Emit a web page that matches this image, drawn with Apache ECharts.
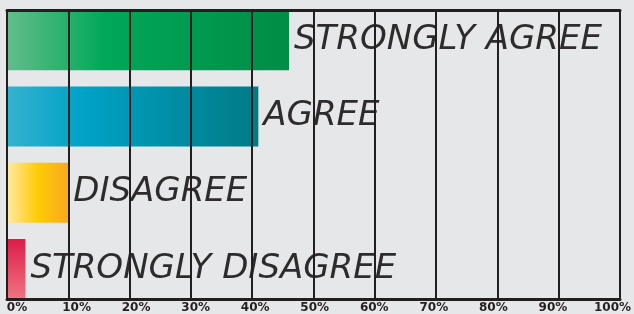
<!DOCTYPE html>
<html>
<head>
<meta charset="utf-8">
<script src="https://cdn.jsdelivr.net/npm/echarts@6/dist/echarts.min.js"></script>
<style>
  html, body { margin: 0; padding: 0; background: #e6e7e8; }
  #chart { width: 634px; height: 314px; }
</style>
</head>
<body>
<div id="chart"></div>
<script>
const categories = ['STRONGLY AGREE', 'AGREE', 'DISAGREE', 'STRONGLY DISAGREE'];
const values = [46, 41, 10, 3];
const tickLabels = ['0%', '10%', '20%', '30%', '40%', '50%', '60%', '70%', '80%', '90%', '100%'];

const ink = '#231f20';

function hGradient(stops) {
  return new echarts.graphic.LinearGradient(0, 0, 1, 0,
    stops.map(([offset, color]) => ({ offset, color })));
}

const fills = [
  hGradient([[0, '#63bd8a'], [0.35, '#00a859'], [1, '#008c45']]),
  hGradient([[0, '#35b2cf'], [0.3, '#00a2c6'], [1, '#007b86']]),
  hGradient([[0, '#feeaa6'], [0.5, '#ffcb05'], [1, '#f7a91d']]),
  new echarts.graphic.LinearGradient(0, 0, 0, 1, [
    { offset: 0, color: '#dc1c48' },
    { offset: 1, color: '#f07482' },
  ]),
];

const chart = echarts.init(document.getElementById('chart'));
chart.setOption({
  backgroundColor: '#e6e7e8',
  animation: false,
  grid: [
    { left: 7, right: 14, top: 2, bottom: 7 },
    { left: 7, right: 14, top: 10, bottom: 15 },
    { left: 17, right: 19, top: 10, bottom: 15 },
  ],
  xAxis: [
    { gridIndex: 0, type: 'value', min: 0, max: 100, show: false },
    {
      gridIndex: 1, type: 'value', min: 0, max: 100, interval: 10, z: 10,
      axisLine: { show: true, lineStyle: { color: ink, width: 3 } },
      axisTick: { show: false },
      axisLabel: { show: false },
      splitLine: { show: true, lineStyle: { color: ink, width: 2 } },
    },
    {
      gridIndex: 1, type: 'value', min: 0, max: 100, position: 'top', z: 10,
      axisLine: { show: true, lineStyle: { color: ink, width: 3 } },
      axisTick: { show: false },
      axisLabel: { show: false },
      splitLine: { show: false },
    },
    {
      gridIndex: 2, type: 'value', min: 0, max: 100, interval: 10,
      axisLine: { show: false },
      axisTick: { show: false },
      splitLine: { show: false },
      axisLabel: {
        margin: 4,
        color: ink,
        fontFamily: 'DejaVu Sans',
        fontWeight: 'bold',
        fontSize: 12,
        formatter: v => tickLabels[Math.round(v / 10)],
      },
    },
  ],
  yAxis: [
    { gridIndex: 0, type: 'category', data: categories, inverse: true, show: false },
    { gridIndex: 1, type: 'value', show: false },
    { gridIndex: 2, type: 'value', show: false },
  ],
  series: [{
    type: 'bar',
    xAxisIndex: 0,
    yAxisIndex: 0,
    barWidth: 60,
    data: values.map((v, i) => ({ value: v, itemStyle: { color: fills[i] } })),
    label: {
      show: true,
      position: 'right',
      distance: 5,
      formatter: p => categories[p.dataIndex],
      color: '#2e2b2c',
      fontFamily: 'DejaVu Sans',
      fontStyle: 'italic',
      fontSize: 34,
    },
  }],
});
</script>
</body>
</html>
